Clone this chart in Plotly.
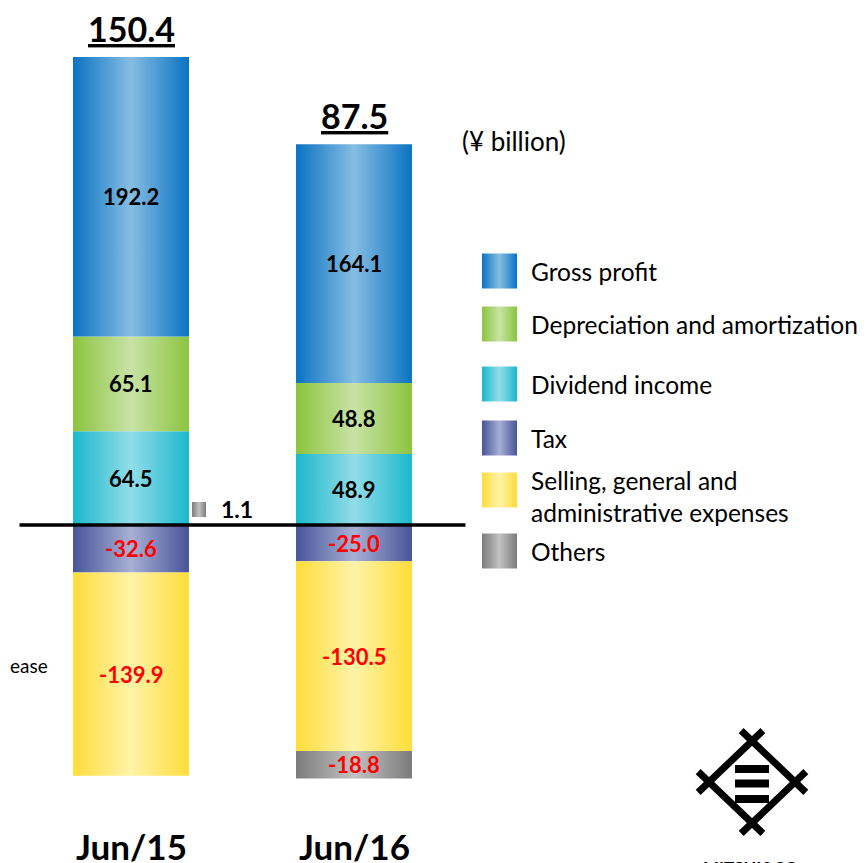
import plotly.graph_objects as go

# Operating cash flow breakdown, (¥ billion)
categories = ["Jun/15", "Jun/16"]
gross_profit = [192.2, 164.1]
depreciation = [65.1, 48.8]
dividend_income = [64.5, 48.9]
tax = [-32.6, -25.0]
sga_expenses = [-139.9, -130.5]
others = [1.1, -18.8]
totals = [150.4, 87.5]

legend_labels = [
    "Gross profit",
    "Depreciation and amortization",
    "Dividend income",
    "Tax",
    "Selling, general and<br>administrative expenses",
    "Others",
]

FONT = "Lato, Carlito, Calibri, sans-serif"
W, H = 866, 863
OFF = 8  # page body margin, the figure starts 8px in
BAR_W = 0.52
PX_PER_CAT = 223
PX_PER_UNIT = 1.454
X0_PX, ZERO_PX = 131, 525

# edge colour, centre colour of the horizontal gradient
COLORS = {
    "gross": ("#0a73c3", "#86bde3"),
    "dep": ("#8cc43e", "#c8e3a6"),
    "div": ("#1bb8cd", "#92dde8"),
    "tax": ("#48549a", "#a7b0d4"),
    "sga": ("#ffdd3a", "#fff3a8"),
    "oth": ("#7b7b7b", "#c2c2c2"),
}


def grad(key):
    edge, mid = COLORS[key]
    return dict(type="horizontal", colorscale=[[0, edge], [0.5, mid], [1, edge]])


def box(fig, x0, x1, y0, y1, key, xa="x", ya="y"):
    fig.add_trace(go.Scatter(
        x=[x0, x1, x1, x0, x0], y=[y0, y0, y1, y1, y0],
        xaxis=xa, yaxis=ya, fill="toself", mode="lines",
        line=dict(width=0), fillgradient=grad(key),
        hoverinfo="skip", showlegend=False,
    ))


fig = go.Figure()
annotations = []

for i, cat in enumerate(categories):
    # positive side, bottom to top
    base = 0.0
    for key, series in [("div", dividend_income), ("dep", depreciation), ("gross", gross_profit)]:
        v = series[i]
        box(fig, i - BAR_W / 2, i + BAR_W / 2, base, base + v, key)
        annotations.append(dict(x=i, y=base + v / 2, text=f"<b>{v:.1f}</b>", showarrow=False,
                                font=dict(size=22, color="black", family=FONT)))
        base += v
    top = base

    # negative side, top to bottom
    base = 0.0
    for key, series in [("tax", tax), ("sga", sga_expenses), ("oth", others)]:
        v = series[i]
        if v >= 0:
            continue
        box(fig, i - BAR_W / 2, i + BAR_W / 2, base, base + v, key)
        annotations.append(dict(x=i, y=base + v / 2, text=f"<b>{v:.1f}</b>", showarrow=False,
                                font=dict(size=22, color="#ff0000", family=FONT)))
        base += v

    annotations.append(dict(x=i, y=top, yanchor="bottom", yshift=6, text=f"<b><u>{totals[i]:.1f}</u></b>",
                            showarrow=False, font=dict(size=34, color="black", family=FONT)))
    annotations.append(dict(x=i, y=0, xref="x", yref="paper", yanchor="bottom", yshift=-6,
                            text=f"<b>{cat}</b>", showarrow=False,
                            font=dict(size=35, color="black", family=FONT)))

# small positive "others" shown as a callout next to the first bar
for i, v in enumerate(others):
    if v > 0:
        box(fig, 192, 206, 502, 517, "oth", "x2", "y2")
        annotations.append(dict(x=219, y=509, xref="x2", yref="y2", xanchor="left",
                                text=f"<b>{v:.1f}</b>", showarrow=False,
                                font=dict(size=23, color="black", family=FONT)))

# legend drawn by hand
legend_y = [271, 324, 384, 438, 490, 551]
for lab, key, y in zip(legend_labels, COLORS, legend_y):
    box(fig, 482, 517, y - 17.5, y + 17.5, key, "x2", "y2")
    annotations.append(dict(x=529, y=y + (6 if "<br>" in lab else 0), xref="x2", yref="y2",
                            xanchor="left", text=lab, showarrow=False, align="left",
                            font=dict(size=24.5, color="black", family=FONT)))

annotations.append(dict(x=460, y=141, xref="x2", yref="y2", xanchor="left", text="(¥ billion)",
                        showarrow=False, font=dict(size=26, color="black", family=FONT)))
annotations.append(dict(x=OFF, y=665, xref="x2", yref="y2", xanchor="left", text="ease",
                        showarrow=False, font=dict(size=19, color="black", family=FONT)))
annotations.append(dict(x=752, y=855, xref="x2", yref="y2", yanchor="top", text="<b>MITSUI&amp;CO.</b>",
                        showarrow=False, font=dict(size=17, color="black", family=FONT)))

shapes = [dict(type="line", xref="x", yref="y", x0=-0.5, x1=1.5, y0=0, y1=0,
               line=dict(color="black", width=3.5))]

# logo: diamond with extended sides plus three bars
cx, cy, hx, hy, ext = 752, 782, 43, 41, 15
pts = [(cx, cy - hy), (cx + hx, cy), (cx, cy + hy), (cx - hx, cy)]
for k in range(4):
    (ax, ay), (bx, by) = pts[k], pts[(k + 1) % 4]
    dx, dy = bx - ax, by - ay
    n = (dx ** 2 + dy ** 2) ** 0.5
    ux, uy = dx / n * ext, dy / n * ext
    shapes.append(dict(type="line", xref="x2", yref="y2", x0=ax - ux, y0=ay - uy, x1=bx + ux, y1=by + uy,
                       line=dict(color="black", width=7)))
for yb in [769, 783.5, 799]:
    shapes.append(dict(type="rect", xref="x2", yref="y2", x0=735, x1=769, y0=yb - 4, y1=yb + 4,
                       fillcolor="black", line=dict(width=0)))

fig.update_layout(
    width=W - OFF, height=H - OFF,
    margin=dict(l=0, r=0, t=0, b=0),
    paper_bgcolor="white", plot_bgcolor="white",
    showlegend=False,
    xaxis=dict(range=[(OFF - X0_PX) / PX_PER_CAT, (W - X0_PX) / PX_PER_CAT], visible=False, fixedrange=True),
    yaxis=dict(range=[-(H - ZERO_PX) / PX_PER_UNIT, (ZERO_PX - OFF) / PX_PER_UNIT], visible=False, fixedrange=True),
    xaxis2=dict(range=[OFF, W], overlaying="x", visible=False, fixedrange=True),
    yaxis2=dict(range=[H, OFF], overlaying="y", visible=False, fixedrange=True),
    annotations=annotations,
    shapes=shapes,
)

fig.write_html("out.html")
